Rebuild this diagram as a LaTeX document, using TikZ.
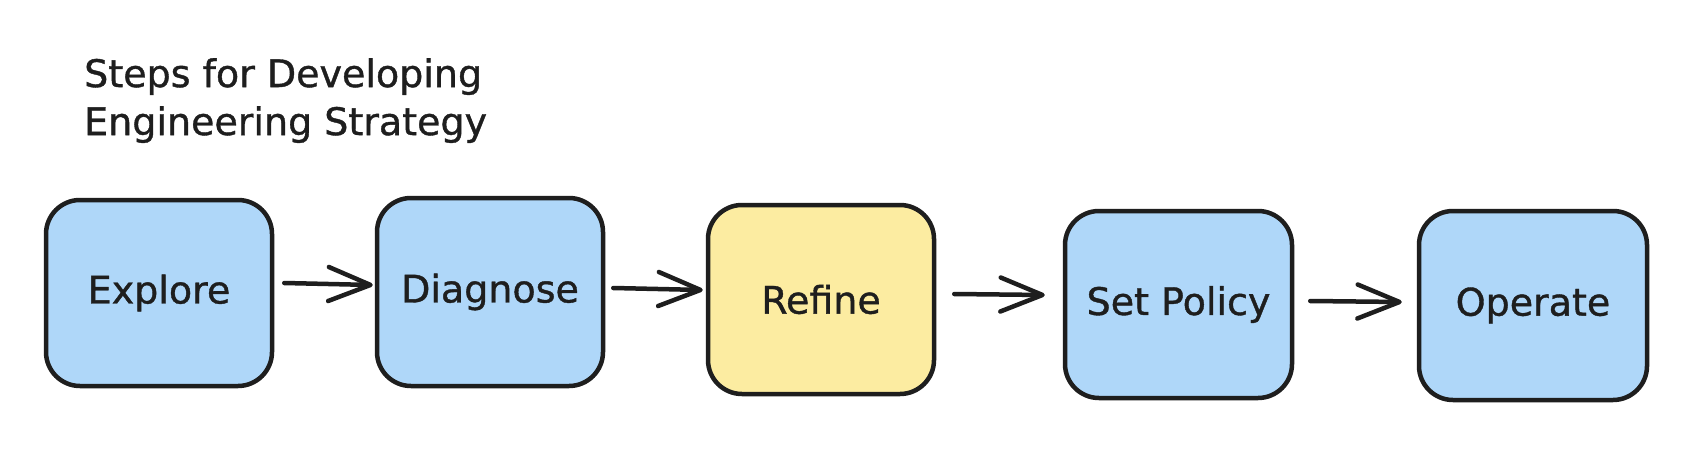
\documentclass[tikz,border=0pt]{standalone}
\usepackage{fontspec}
\setmainfont{DejaVu Sans}[FakeBold=1]
\usetikzlibrary{arrows.meta}
\definecolor{inkc}{HTML}{1E1E1E}
\definecolor{bluefill}{RGB}{175,215,249}
\definecolor{yellowfill}{RGB}{252,236,161}
\begin{document}
\begin{tikzpicture}[x=1pt,y=-1pt,
  stepbox/.style={draw=inkc, line width=4.5pt, rounded corners=34pt, inner sep=0pt,
    font=\fontsize{38}{44}\selectfont, text=inkc},
  bluebox/.style={stepbox, fill=bluefill},
  yellowbox/.style={stepbox, fill=yellowfill},
  flow/.style={draw=inkc, line width=4.5pt, line cap=round,
    -{Straight Barb[length=42pt,width=34pt,round]}},
  titletext/.style={anchor=north west, inner sep=0pt, align=left,
    font=\fontsize{38}{48}\selectfont, text=inkc}]
\fill[white] (0,0) rectangle (1704,468);
\useasboundingbox (0,0) rectangle (1704,468);

\node[titletext] (title) at (84,58) {Steps for Developing\\Engineering Strategy};

\node[bluebox, minimum width=226pt, minimum height=186pt] (explore) at (159,293) {Explore};
\node[bluebox, minimum width=226pt, minimum height=188pt] (diagnose) at (490,292) {Diagnose};
\node[yellowbox, minimum width=226pt, minimum height=189pt] (refine) at (821,299.5) {Refine};
\node[bluebox, minimum width=227pt, minimum height=187pt] (policy) at (1178.5,304.5) {Set Policy};
\node[bluebox, minimum width=228pt, minimum height=189pt] (operate) at (1533,305.5) {Operate};

\draw[flow] ([shift={(10,-10)}]explore.east) -- ([shift={(-2,-7)}]diagnose.west);
\draw[flow] ([shift={(8,-4)}]diagnose.east) -- ([shift={(-3,-9.5)}]refine.west);
\draw[flow] ([shift={(18,-5.5)}]refine.east) -- ([shift={(-18,-9.5)}]policy.west);
\draw[flow] ([shift={(16,-3.5)}]policy.east) -- ([shift={(-15,-3.5)}]operate.west);
\end{tikzpicture}
\end{document}
